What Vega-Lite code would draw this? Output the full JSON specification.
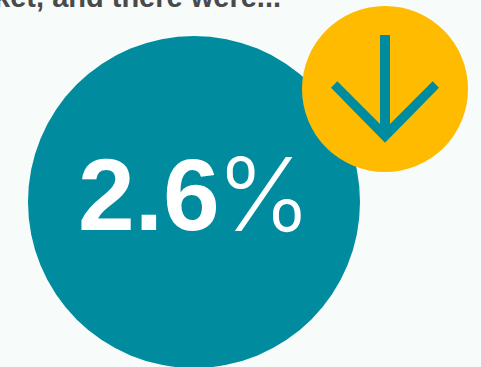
{
  "$schema": "https://vega.github.io/schema/vega-lite/v6.json",
  "width": 481,
  "height": 367,
  "padding": 0,
  "autosize": {"type": "none"},
  "background": "#f7fbfa",
  "view": {"stroke": null},
  "config": {"axis": {"disable": true}, "legend": {"disable": true}},
  "data": {
    "values": [
      {"item": "rate", "value": 2.6, "unit": "%", "headline": "ket, and there were..."},
      {"item": "change", "direction": "down"}
    ]
  },
  "encoding": {
    "x": {"field": "item", "type": "nominal", "axis": null,
      "scale": {"type": "point", "domain": ["rate", "change"], "range": [194, 385], "padding": 0}},
    "y": {"field": "item", "type": "nominal", "axis": null,
      "scale": {"type": "point", "domain": ["rate", "change"], "range": [202, 89], "padding": 0}}
  },
  "layer": [
    {
      "transform": [{"filter": "datum.item === 'rate'"}],
      "mark": {"type": "text", "align": "right", "baseline": "alphabetic", "dx": 87, "dy": -195,
        "font": "Liberation Sans", "fontWeight": "bold", "fontSize": 29, "color": "#4a4a4a"},
      "encoding": {"text": {"field": "headline"}}
    },
    {
      "transform": [{"filter": "datum.item === 'rate'"}],
      "mark": {"type": "point", "shape": "circle", "filled": true, "size": 110224, "opacity": 1, "color": "#008c9e", "strokeWidth": 0}
    },
    {
      "transform": [{"filter": "datum.item === 'change'"}],
      "mark": {"type": "point", "shape": "circle", "filled": true, "size": 27556, "opacity": 1, "color": "#ffbb00", "strokeWidth": 0}
    },
    {
      "transform": [{"filter": "datum.item === 'change'"}],
      "mark": {"type": "point", "filled": true, "size": 10000, "opacity": 1, "color": "#008c9e", "strokeWidth": 0,
        "shape": "M-0.1,-1.08L-0.1,0.7L-0.954,-0.154L-1.08,-0.026L0,1.074L1.08,-0.026L0.954,-0.154L0.1,0.7L0.1,-1.08Z"}
    },
    {
      "transform": [{"filter": "datum.item === 'rate'"}],
      "mark": {"type": "text", "align": "left", "baseline": "alphabetic", "dx": -116, "dy": 28,
        "font": "Liberation Sans", "fontWeight": "bold", "fontSize": 102, "color": "#ffffff"},
      "encoding": {"text": {"field": "value", "type": "quantitative", "format": ".1f"}}
    },
    {
      "transform": [{"filter": "datum.item === 'rate'"}],
      "mark": {"type": "text", "align": "left", "baseline": "alphabetic", "dx": 22, "dy": 29,
        "font": "Inter", "fontWeight": 300, "fontSize": 102, "color": "#ffffff"},
      "encoding": {"text": {"field": "unit"}}
    }
  ]
}
